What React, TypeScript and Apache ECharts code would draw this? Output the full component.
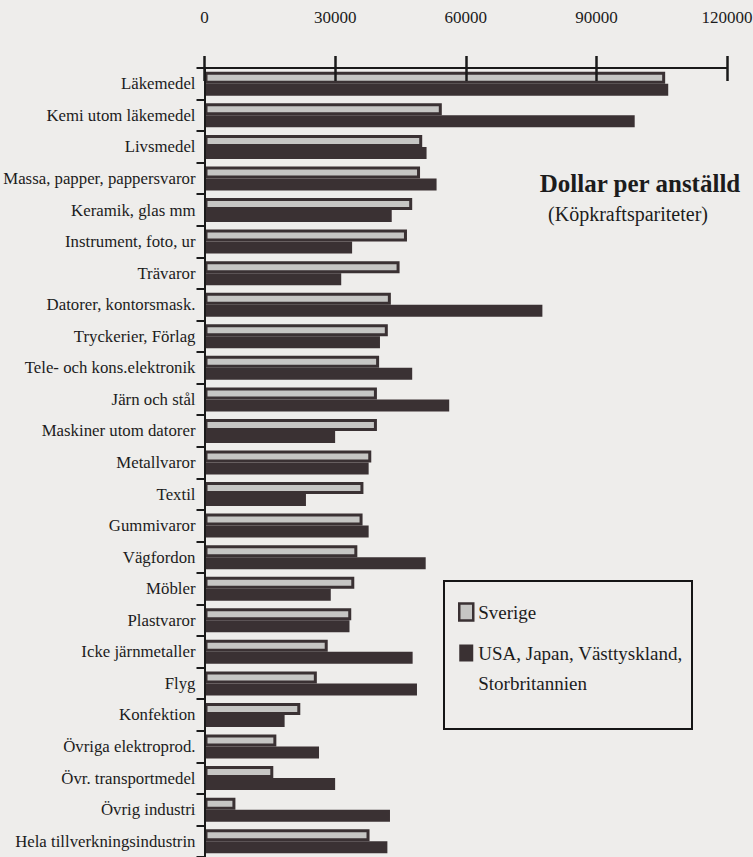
import React, { useEffect, useRef } from 'react';
import * as echarts from 'echarts';

const categories = [
  'Läkemedel',
  'Kemi utom läkemedel',
  'Livsmedel',
  'Massa, papper, pappersvaror',
  'Keramik, glas mm',
  'Instrument, foto, ur',
  'Trävaror',
  'Datorer, kontorsmask.',
  'Tryckerier, Förlag',
  'Tele- och kons.elektronik',
  'Järn och stål',
  'Maskiner utom datorer',
  'Metallvaror',
  'Textil',
  'Gummivaror',
  'Vägfordon',
  'Möbler',
  'Plastvaror',
  'Icke järnmetaller',
  'Flyg',
  'Konfektion',
  'Övriga elektroprod.',
  'Övr. transportmedel',
  'Övrig industri',
  'Hela tillverkningsindustrin',
];

const sverige = [
  105800, 54500, 50000, 49500, 47700, 46500, 44800, 42800, 42100, 40100, 39600, 39600, 38300,
  36500, 36300, 35100, 34400, 33700, 28300, 25800, 22000, 16500, 15800, 7100, 37900,
];

const usaJapanVtyStorbr = [
  106500, 98800, 51000, 53300, 43000, 33900, 31400, 77600, 40300, 47700, 56200, 30000, 37700,
  23300, 37700, 50800, 29000, 33300, 47800, 48800, 18400, 26300, 30000, 42600, 42000,
];

const xMin = 0;
const xMax = 120000;
const xInterval = 30000;

const seriesNames = ['Sverige', 'USA, Japan, Västtyskland, Storbritannien'];
const titleText = 'Dollar per anställd';
const subtitleText = '(Köpkraftspariteter)';

const FONT = '"Liberation Serif", "Times New Roman", Times, serif';
const DARK = '#3a3133';
const LIGHT = '#c6c6c4';
const INK = '#1c1c1c';

export default function App() {
  const ref = useRef<HTMLDivElement>(null);

  useEffect(() => {
    if (!ref.current) return;
    const chart = echarts.init(ref.current, null, { renderer: 'svg' });

    const xAxisBase = {
      type: 'value',
      position: 'top',
      min: xMin,
      max: xMax,
      interval: xInterval,
      gridIndex: 0,
      z: 10,
      splitLine: { show: false },
    };

    chart.setOption({
      animation: false,
      backgroundColor: '#eeedeb',
      textStyle: { fontFamily: FONT },
      title: [
        {
          text: titleText,
          left: 640,
          top: 171,
          textAlign: 'center',
          padding: 0,
          textStyle: { fontFamily: FONT, fontSize: 25, fontWeight: 'bold', color: INK },
        },
        {
          text: subtitleText,
          left: 628,
          top: 204,
          textAlign: 'center',
          padding: 0,
          textStyle: { fontFamily: FONT, fontSize: 20, fontWeight: 'normal', color: INK },
        },
      ],
      graphic: [
        {
          type: 'rect',
          shape: { x: 444, y: 581, width: 248, height: 148 },
          style: { fill: 'none', stroke: '#151515', lineWidth: 2 },
          z: 20,
        },
      ],
      legend: {
        data: seriesNames,
        orient: 'vertical',
        left: 458,
        top: 597,
        padding: 0,
        icon: 'rect',
        itemWidth: 14,
        itemHeight: 17,
        itemGap: -19,
        selectedMode: false,
        itemStyle: { borderWidth: 2.5 },
        formatter: (name: string) =>
          name === seriesNames[1] ? '\nUSA, Japan, Västtyskland,\nStorbritannien' : name,
        textStyle: { fontFamily: FONT, fontSize: 19, lineHeight: 30, color: INK },
      },
      grid: {
        left: 204.5,
        top: 68,
        width: 522.5,
        height: 789,
        containLabel: false,
        outerBoundsMode: 'none',
      },
      xAxis: [
        {
          ...xAxisBase,
          axisLine: { show: true, lineStyle: { color: '#1a1a1a', width: 2 } },
          axisTick: { show: true, inside: false, length: 12, lineStyle: { color: '#1a1a1a', width: 2.5 } },
          axisLabel: {
            show: true,
            margin: 42,
            fontFamily: FONT,
            fontSize: 17,
            color: INK,
            formatter: (v: number) => String(v),
          },
        },
        {
          ...xAxisBase,
          axisLine: { show: false },
          axisTick: { show: true, inside: true, length: 13, lineStyle: { color: '#1a1a1a', width: 2.5 } },
          axisLabel: { show: false },
        },
      ],
      yAxis: {
        type: 'category',
        inverse: true,
        data: categories,
        z: 10,
        axisLine: { show: true, lineStyle: { color: '#1a1a1a', width: 2 } },
        axisTick: { show: true, length: 8, lineStyle: { color: '#1a1a1a', width: 2 } },
        axisLabel: { margin: 9, fontFamily: FONT, fontSize: 16.8, color: INK },
      },
      series: [
        {
          name: seriesNames[0],
          type: 'bar',
          xAxisIndex: 0,
          data: sverige,
          barWidth: 12,
          barGap: '0%',
          itemStyle: { color: LIGHT, borderColor: DARK, borderWidth: 3 },
        },
        {
          name: seriesNames[1],
          type: 'bar',
          xAxisIndex: 0,
          data: usaJapanVtyStorbr,
          barWidth: 12,
          barGap: '0%',
          itemStyle: { color: DARK },
        },
      ],
    });

    return () => chart.dispose();
  }, []);

  return (
    <div
      ref={ref}
      style={{ position: 'fixed', left: 0, top: 0, width: 753, height: 857 }}
    />
  );
}
